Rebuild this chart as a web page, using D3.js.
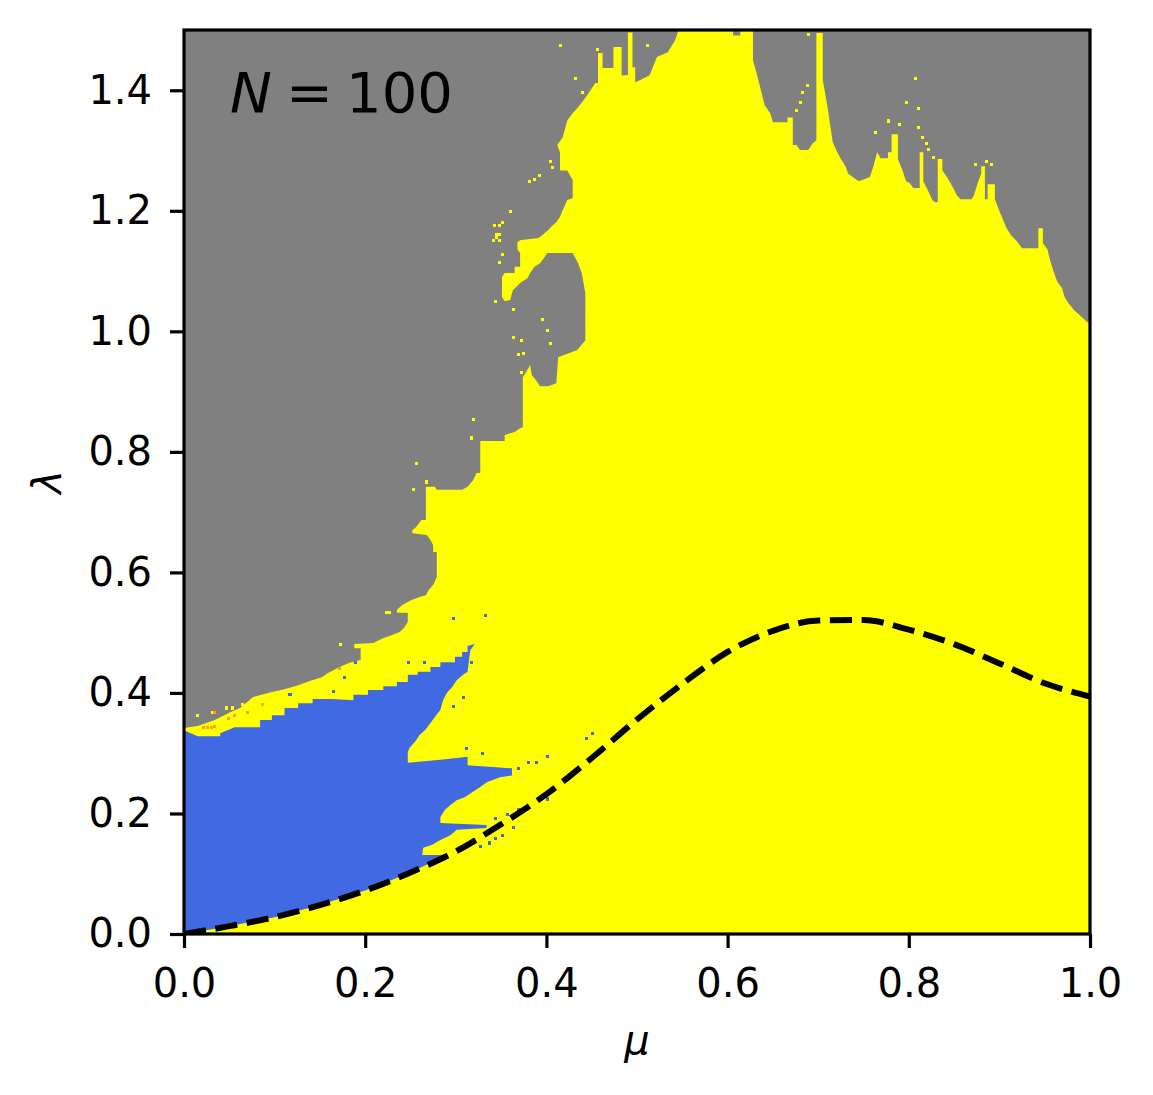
<!DOCTYPE html>
<html>
<head>
<meta charset="utf-8">
<script src="https://d3js.org/d3.v7.min.js"></script>
<style>
  body { margin: 0; background: #fff; }
  svg { display: block; font-family: "DejaVu Sans", sans-serif; }
</style>
</head>
<body>
<svg id="chart" width="1153" height="1095"></svg>
<script>
// axis ticks
const muTicks = [0, 0.2, 0.4, 0.6, 0.8, 1.0];
const lambdaTicks = [0, 0.2, 0.4, 0.6, 0.8, 1.0, 1.2, 1.4];

const yellowEdge = [
  [1.000,1.015],[0.997,1.015],[0.992,1.022],[0.987,1.029],[0.983,1.034],[0.980,1.040],[0.976,1.047],[0.972,1.057],
  [0.969,1.072],[0.964,1.082],[0.960,1.098],[0.956,1.118],[0.953,1.136],[0.948,1.146],
  [0.948,1.171],[0.943,1.171],[0.943,1.138],
  [0.925,1.138],[0.921,1.146],[0.916,1.155],[0.913,1.159],[0.908,1.171],[0.904,1.185],[0.901,1.196],[0.895,1.219],
  [0.895,1.244],[0.887,1.244],[0.887,1.219],[0.884,1.219],[0.884,1.274],[0.880,1.274],[0.880,1.262],[0.876,1.246],
  [0.872,1.226],[0.869,1.219],[0.857,1.219],[0.853,1.226],[0.849,1.238],[0.846,1.246],[0.842,1.256],[0.837,1.267],
  [0.837,1.286],[0.832,1.286],[0.832,1.214],[0.829,1.214],[0.826,1.218],[0.821,1.234],[0.816,1.249],
  [0.816,1.297],[0.812,1.297],[0.812,1.238],[0.805,1.238],[0.801,1.246],[0.797,1.249],[0.793,1.267],[0.788,1.286],
  [0.788,1.327],[0.781,1.327],[0.781,1.297],[0.777,1.297],[0.777,1.287],[0.769,1.287],[0.765,1.297],[0.761,1.274],
  [0.757,1.256],[0.745,1.249],[0.738,1.256],[0.733,1.262],[0.730,1.274],[0.725,1.286],[0.721,1.297],[0.716,1.314],
  [0.713,1.345],[0.710,1.375],[0.705,1.417],[0.705,1.495],[0.698,1.495],[0.698,1.317],[0.694,1.312],[0.689,1.301],
  [0.680,1.301],[0.676,1.309],[0.672,1.309],[0.672,1.355],[0.666,1.355],[0.666,1.347],[0.650,1.347],[0.647,1.362],
  [0.641,1.375],[0.638,1.392],[0.634,1.417],[0.628,1.450],[0.628,1.5],[0.614,1.5],[0.614,1.491],[0.606,1.491],
  [0.606,1.5],[0.546,1.5],[0.542,1.483],[0.534,1.463],[0.522,1.455],[0.514,1.425],[0.498,1.413],
  [0.498,1.438],[0.495,1.438],[0.495,1.496],[0.490,1.496],[0.490,1.425],[0.483,1.425],[0.483,1.472],[0.474,1.472],
  [0.474,1.437],[0.462,1.437],[0.462,1.462],[0.457,1.462],[0.457,1.412],[0.454,1.412],[0.443,1.387],[0.434,1.370],
  [0.429,1.362],[0.423,1.350],[0.418,1.322],[0.412,1.309],[0.415,1.297],[0.415,1.267],[0.423,1.267],[0.429,1.251],
  [0.429,1.221],[0.423,1.218],[0.418,1.201],[0.415,1.190],[0.411,1.181],[0.407,1.176],[0.402,1.168],[0.395,1.159],
  [0.391,1.155],[0.371,1.151],[0.368,1.148],[0.368,1.136],[0.371,1.130],[0.371,1.107],[0.365,1.107],[0.365,1.097],
  [0.354,1.097],[0.351,1.090],[0.351,1.057],[0.354,1.050],[0.360,1.052],[0.363,1.068],[0.371,1.080],[0.379,1.088],
  [0.382,1.097],[0.387,1.107],[0.393,1.113],[0.398,1.123],[0.401,1.130],[0.429,1.130],[0.435,1.113],[0.439,1.097],
  [0.443,1.063],[0.443,0.985],[0.434,0.969],[0.413,0.957],[0.411,0.914],[0.402,0.909],[0.393,0.909],[0.390,0.916],
  [0.384,0.927],[0.382,0.944],[0.379,0.936],[0.374,0.924],[0.374,0.841],[0.371,0.839],[0.365,0.833],[0.354,0.828],
  [0.354,0.818],[0.327,0.818],[0.327,0.765],[0.323,0.765],[0.319,0.753],[0.313,0.742],[0.307,0.737],[0.279,0.737],
  [0.277,0.742],[0.267,0.742],[0.267,0.687],[0.262,0.687],[0.256,0.675],[0.252,0.670],[0.252,0.665],[0.268,0.662],
  [0.272,0.654],[0.275,0.645],[0.275,0.634],[0.279,0.634],[0.279,0.592],[0.275,0.579],[0.270,0.571],[0.267,0.562],
  [0.260,0.559],[0.251,0.554],[0.241,0.546],[0.235,0.538],[0.235,0.533],[0.247,0.533],[0.247,0.518],[0.243,0.508],
  [0.238,0.501],[0.230,0.496],[0.220,0.491],[0.209,0.483],[0.188,0.481],[0.188,0.474],[0.195,0.474],[0.195,0.455],
  [0.183,0.450],[0.176,0.446],[0.169,0.441],[0.159,0.433],[0.152,0.426],[0.139,0.420],[0.127,0.413],[0.111,0.406],
  [0.096,0.401],[0.076,0.393],[0.062,0.375],[0.051,0.368],[0.034,0.355],[0.015,0.345],[0,0.342]
];

// edge of the blue region, from the left axis round to where it meets the dashed curve
const blueEdge = [
  [0,0.338],[0.015,0.328],[0.040,0.328],[0.040,0.333],[0.056,0.343],[0.084,0.343],[0.084,0.355],[0.097,0.355],
  [0.097,0.363],[0.111,0.363],[0.111,0.375],[0.126,0.375],[0.126,0.383],[0.142,0.383],[0.142,0.390],[0.163,0.390],
  [0.187,0.388],[0.187,0.397],[0.203,0.397],[0.203,0.405],[0.220,0.405],[0.220,0.411],[0.235,0.411],[0.235,0.418],
  [0.247,0.418],[0.247,0.430],[0.258,0.430],[0.258,0.435],[0.272,0.435],[0.272,0.443],[0.283,0.443],[0.283,0.451],
  [0.299,0.451],[0.299,0.460],[0.307,0.460],[0.307,0.468],[0.313,0.468],[0.313,0.478],[0.321,0.481],
  [0.316,0.471],[0.313,0.435],[0.308,0.430],[0.301,0.421],[0.296,0.410],[0.290,0.400],[0.286,0.388],[0.283,0.372],
  [0.277,0.360],[0.272,0.350],[0.266,0.338],[0.260,0.330],[0.255,0.319],[0.249,0.309],[0.247,0.302],[0.247,0.284],
  [0.283,0.289],[0.313,0.294],[0.313,0.280],[0.362,0.275],[0.362,0.263],[0.349,0.260],[0.334,0.252],[0.327,0.244],
  [0.319,0.236],[0.310,0.227],[0.301,0.222],[0.294,0.214],[0.288,0.206],[0.283,0.194],[0.283,0.184],[0.334,0.181],
  [0.334,0.176],[0.301,0.173],[0.294,0.164],[0.283,0.156],[0.274,0.148],[0.264,0.143],[0.263,0.131],[0.290,0.131]
];

// dashed curve
const curveMu = [0, 0.05, 0.1, 0.15, 0.2, 0.25, 0.3, 0.35, 0.4, 0.45, 0.5, 0.55, 0.6, 0.65, 0.7, 0.75, 0.8, 0.85, 0.9, 0.95, 1.0];
const curveLambda = [0, 0.013, 0.028, 0.048, 0.072, 0.102, 0.137, 0.182, 0.232, 0.292, 0.356, 0.415, 0.468, 0.503, 0.520, 0.521, 0.505, 0.481, 0.449, 0.416, 0.394];

// single stray cells
const yellowDots = [
  [0.416,1.475],[0.456,1.468],[0.432,1.420],[0.440,1.397],[0.404,1.282],[0.407,1.272],[0.392,1.259],[0.387,1.252],
  [0.381,1.248],[0.360,1.199],[0.352,1.181],[0.348,1.176],[0.343,1.175],[0.345,1.160],[0.348,1.160],[0.345,1.155],
  [0.348,1.150],[0.342,1.150],[0.352,1.128],[0.348,1.115],[0.344,1.050],[0.364,1.037],[0.396,1.020],[0.401,1.002],
  [0.364,0.990],[0.373,0.984],[0.404,0.980],[0.375,0.964],[0.369,0.961],[0.372,0.932],[0.320,0.853],[0.317,0.823],
  [0.257,0.781],[0.268,0.750],[0.253,0.738],[0.223,0.534],[0.227,0.534],[0.173,0.481],
  [0.689,1.493],[0.512,1.475],[0.476,1.420],[0.807,1.420],[0.798,1.379],[0.811,1.370],[0.778,1.349],[0.790,1.344],
  [0.763,1.330],[0.811,1.339],[0.815,1.322],[0.819,1.312],[0.822,1.302],[0.827,1.289],[0.874,1.277],[0.886,1.282],
  [0.891,1.277],[0.680,1.379],[0.683,1.397],[0.688,1.408],[0.676,1.367],
  [0.015,0.362],[0.032,0.367],[0.047,0.375],[0.053,0.375],[0.065,0.380],[0.072,0.380]
];
const blueDots = [
  [0.297,0.523],[0.333,0.529],[0.189,0.451],[0.248,0.451],[0.265,0.451],[0.317,0.451],[0.177,0.426],[0.165,0.403],
  [0.117,0.397],[0.308,0.392],[0.297,0.378],[0.312,0.307],[0.329,0.300],[0.401,0.295],[0.380,0.284],[0.389,0.284],
  [0.369,0.275],[0.444,0.325],[0.451,0.332],[0.401,0.224],[0.369,0.206],[0.344,0.192],[0.357,0.199],[0.364,0.176],
  [0.352,0.163],[0.344,0.158],[0.337,0.151],[0.327,0.146]
];
const orangeDots = [
  [0.022,0.343],[0.026,0.343],[0.030,0.343],[0.034,0.345],[0.034,0.368],[0.049,0.358],[0.056,0.362],[0.070,0.367],
  [0.087,0.380],[0.172,0.440]
];

const svg = d3.select("#chart");
svg.append("rect").attr("width", 1153).attr("height", 1095).attr("fill", "#fff");

const x = d3.scaleLinear().domain([0, 1]).range([184, 1090]);
const y = d3.scaleLinear().domain([0, 1.5]).range([934, 30]);

svg.append("defs").append("clipPath").attr("id", "plot-clip")
  .append("rect")
  .attr("x", x(0)).attr("y", y(1.5))
  .attr("width", x(1) - x(0)).attr("height", y(0) - y(1.5));

const plot = svg.append("g").attr("clip-path", "url(#plot-clip)");

const line = d3.line().x(d => x(d[0])).y(d => y(d[1]));

// gray background
plot.append("rect")
  .attr("x", x(0)).attr("y", y(1.5))
  .attr("width", x(1) - x(0)).attr("height", y(0) - y(1.5))
  .attr("fill", "#808080");

// yellow region
const yellowPoly = [[1, 0]].concat(yellowEdge, [[0, 0]]);
plot.append("path").attr("d", line(yellowPoly) + "Z").attr("fill", "#ffff00");

const cellW = x(1 / 300) - x(0);
const cellH = y(0) - y(0.005);
function drawCells(data, color) {
  plot.append("g").attr("shape-rendering", "crispEdges")
    .selectAll("rect").data(data).join("rect")
    .attr("x", d => x(d[0]) - cellW / 2)
    .attr("y", d => y(d[1]) - cellH / 2)
    .attr("width", cellW).attr("height", cellH)
    .attr("fill", color);
}
drawCells(yellowDots, "#ffff00");

// blue region, closed along the dashed curve
const curvePts = curveMu.map((m, i) => [m, curveLambda[i]]);
const bluePoly = blueEdge.concat(curvePts.filter(d => d[0] < 0.29).reverse());
plot.append("path").attr("d", line(bluePoly) + "Z").attr("fill", "#4169e1");

drawCells(blueDots, "#4169e1");
drawCells(orangeDots, "#ffa500");

// dashed curve
plot.append("path")
  .attr("d", d3.line().x(d => x(d[0])).y(d => y(d[1])).curve(d3.curveMonotoneX)(curvePts))
  .attr("fill", "none")
  .attr("stroke", "#000")
  .attr("stroke-width", 6)
  .attr("stroke-dasharray", "22.2,9.6");

// axes
const xAxis = svg.append("g")
  .attr("transform", `translate(0,${y(0)})`)
  .call(d3.axisBottom(x).tickValues(muTicks).tickFormat(d3.format(".1f")).tickSize(14).tickPadding(21));
const yAxis = svg.append("g")
  .attr("transform", `translate(${x(0)},0)`)
  .call(d3.axisLeft(y).tickValues(lambdaTicks).tickFormat(d3.format(".1f")).tickSize(14).tickPadding(18));

[xAxis, yAxis].forEach(a => {
  a.select(".domain").remove();
  a.selectAll(".tick line").attr("stroke", "#000").attr("stroke-width", 3.2);
  a.selectAll(".tick text")
    .attr("fill", "#000")
    .style("font-family", "'DejaVu Sans', sans-serif")
    .style("font-size", "40px");
});

// frame
svg.append("rect")
  .attr("x", x(0)).attr("y", y(1.5))
  .attr("width", x(1) - x(0)).attr("height", y(0) - y(1.5))
  .attr("fill", "none").attr("stroke", "#000").attr("stroke-width", 3.2);

// axis labels
svg.append("text")
  .attr("x", (x(0) + x(1)) / 2).attr("y", 1054)
  .attr("text-anchor", "middle")
  .style("font-size", "40px").style("font-style", "italic")
  .text("μ");

svg.append("text")
  .attr("transform", `translate(61,${(y(0) + y(1.5)) / 2}) rotate(-90)`)
  .attr("text-anchor", "middle")
  .style("font-size", "40px").style("font-style", "italic")
  .text("λ");

// annotation
const note = svg.append("text").attr("y", 112).style("font-size", "56px").attr("fill", "#000");
note.append("tspan").attr("x", 230).style("font-style", "italic").text("N");
note.append("tspan").attr("x", 286).text("=");
note.append("tspan").attr("x", 346).text("100");
</script>
</body>
</html>
